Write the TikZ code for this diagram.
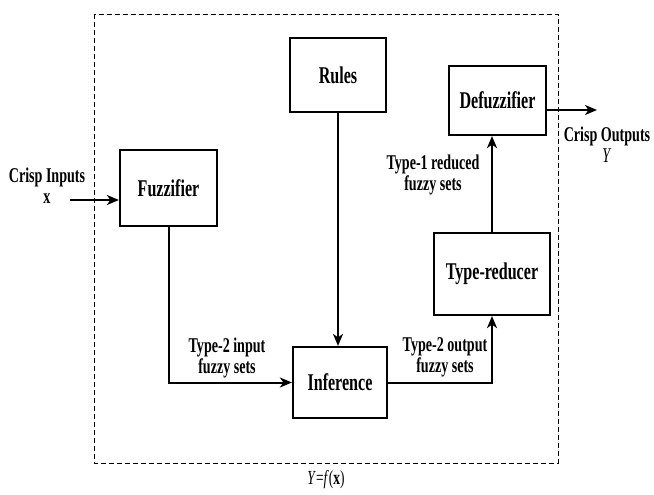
\documentclass[tikz,border=0pt]{standalone}
\usepackage{fontspec}
\setmainfont[FakeStretch=0.67]{Liberation Serif}
\usetikzlibrary{arrows.meta, positioning}

\begin{document}
\begin{tikzpicture}[x=1pt, y=-1pt,
    block/.style={draw, line width=2.2pt, minimum width=#1, align=center,
                  font=\fontsize{24}{26}\selectfont\bfseries},
    note/.style={align=center, font=\fontsize{21}{21}\selectfont\bfseries},
    flow/.style={line width=2pt, -{Stealth[length=12pt, width=10pt, inset=3.5pt]}}
]
    \useasboundingbox (0,0) rectangle (654,495);
    \draw[line width=0.9pt, dash pattern=on 5pt off 3pt] (94,14) rectangle (558,463);

    \node[block=96pt, minimum height=74pt] (rules) at (338,75) {Rules};
    \node[block=97pt, minimum height=76pt] (fuzz) at (168.5,188) {Fuzzifier};
    \node[block=97pt, minimum height=69pt] (defuzz) at (497.5,100.5) {Defuzzifier};
    \node[block=116pt, minimum height=82pt] (red) at (492,274) {Type-reducer};
    \node[block=94pt, minimum height=71pt] (inf) at (340,382.5) {Inference};

    \coordinate (in) at (70,200);
    \coordinate (out) at (597,110);

    \draw[flow] (in) -- (in -| fuzz.west);
    \draw[flow] (fuzz.south) |- (inf.west);
    \draw[flow] (rules.south) -- (rules.south |- inf.north);
    \draw[flow] (inf.east) -| (red.south);
    \draw[flow] (red.north) -- (red.north |- defuzz.south);
    \draw[flow] (out -| defuzz.east) -- (out);

    \node[note] (inlbl) at (47,186) {Crisp Inputs\\x};
    \node[note] (t2in) at (227,358) {Type-2 input\\fuzzy sets};
    \node[note] (t2out) at (445,357) {Type-2 output\\fuzzy sets};
    \node[note] (t1red) at (433,175) {Type-1 reduced\\fuzzy sets};
    \node[note] (outlbl) at (607,145) {Crisp Outputs\\\textmd{\itshape Y}};
    \node[font=\fontsize{20}{20}\selectfont] (fx) at (326,480) {\textit{Y}=\textit{f}(\textbf{x})};
\end{tikzpicture}
\end{document}
